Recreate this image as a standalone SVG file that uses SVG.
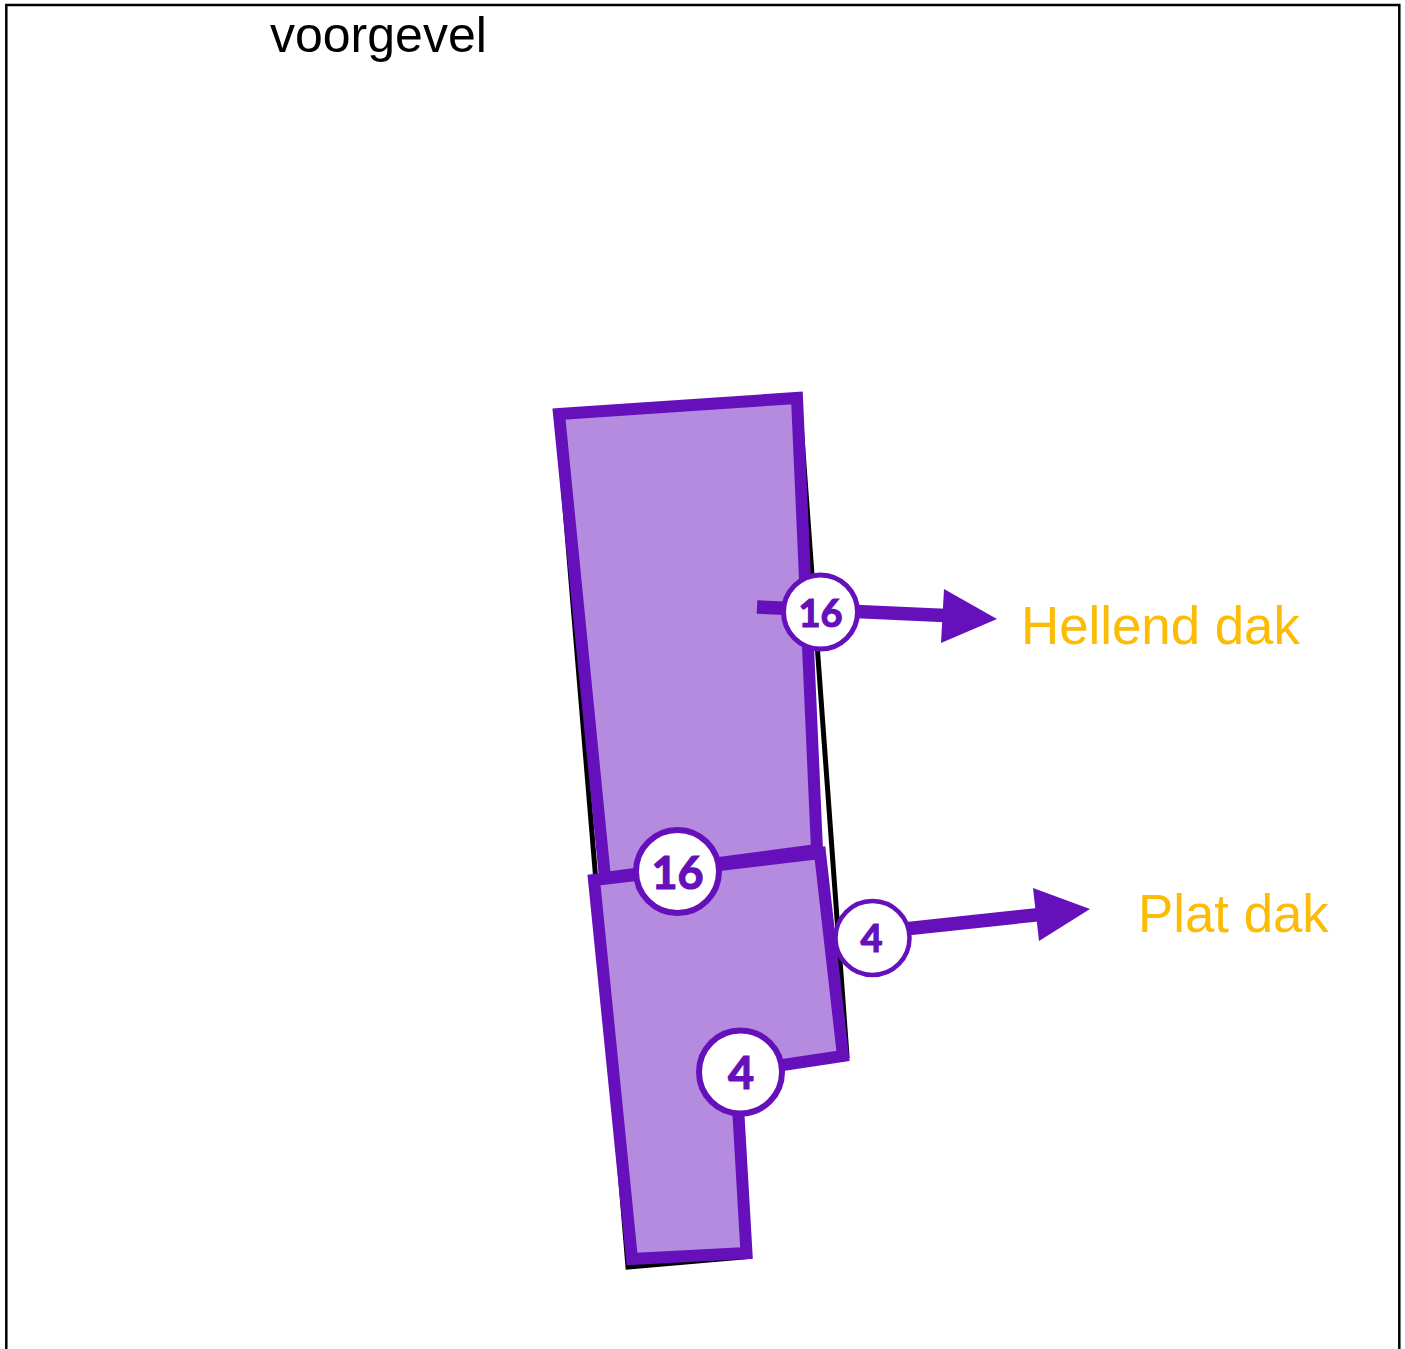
<svg xmlns="http://www.w3.org/2000/svg" width="1405" height="1349" viewBox="0 0 1405 1349">
<style>
.shadow{fill:none;stroke:#000;stroke-width:5;stroke-linejoin:miter}
.part{fill:#b48bdf;stroke:#6610bc;stroke-width:12;stroke-linejoin:miter}
.line{fill:none;stroke:#6610bc;stroke-width:13.5}
.head{fill:#6610bc}
.badge{fill:#fff;stroke:#6610bc}
.num{font-family:"Lato","Open Sans",sans-serif;font-weight:700;fill:#6610bc;stroke:#6610bc;stroke-width:1.2;text-anchor:middle}
.lbl{font-family:"Liberation Sans",Arial,sans-serif;font-size:52.8px;fill:#fcbc05}
</style>
<rect id="frame" x="6.3" y="5" width="1393" height="1360" fill="#fff" stroke="#000" stroke-width="2.5"/>
<text id="title" x="270" y="52" font-family="'Liberation Sans',Arial,sans-serif" font-size="50" fill="#000">voorgevel</text>
<g id="roof">
<polygon class="shadow" points="557,412 799,396 847,1056 735,1075 749.5,1256.5 628,1267"/>
<polygon id="sloped" class="part" points="559,414 797,398 817,850 605,878"/>
<polygon id="flat" class="part" points="594,880 820,853 843,1056 736,1072 746.5,1253 632,1259"/>
</g>
<g id="connectors">
<line class="line" x1="757" y1="607" x2="945" y2="615.5"/>
<polygon class="head" points="944,589 997,619 941,643"/>
<line class="line" x1="900" y1="929.5" x2="1040" y2="914.5"/>
<polygon class="head" points="1033,888 1090,909 1039,941"/>
</g>
<g id="badge-16a"><circle class="badge" cx="820.5" cy="612" r="37" stroke-width="5"/><text class="num" x="820.5" y="627" font-size="38">16</text></g>
<g id="badge-16b"><circle class="badge" cx="677.5" cy="871.5" r="41.5" stroke-width="6"/><text class="num" x="677.5" y="889" font-size="45">16</text></g>
<g id="badge-4a"><circle class="badge" cx="872.5" cy="938" r="37" stroke-width="4.5"/><text class="num" x="871.5" y="952" font-size="38">4</text></g>
<g id="badge-4b"><circle class="badge" cx="740.5" cy="1072" r="41.5" stroke-width="6"/><text class="num" x="741" y="1089" font-size="45">4</text></g>
<text id="label-hellend" class="lbl" x="1021" y="644">Hellend dak</text>
<text id="label-plat" class="lbl" x="1138" y="932">Plat dak</text>
</svg>
